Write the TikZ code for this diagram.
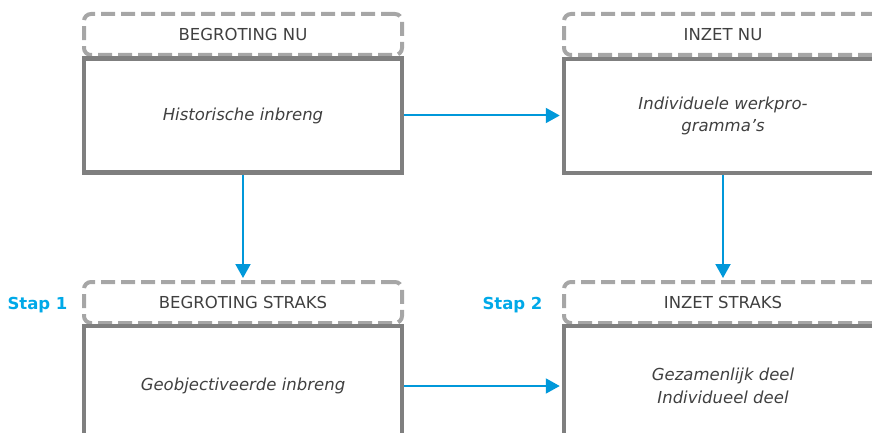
\documentclass[tikz,border=0pt]{standalone}
\usepackage{fontspec}
\setmainfont{DejaVu Sans}
\usetikzlibrary{arrows.meta}
\definecolor{hdrgray}{HTML}{A6A6A6}
\definecolor{boxgray}{HTML}{7F7F7F}
\definecolor{txtgray}{HTML}{404040}
\definecolor{flow}{HTML}{0098DA}
\definecolor{stapblue}{HTML}{00A9E8}
\begin{document}
\begin{tikzpicture}[x=1pt,y=-1pt,
  every node/.style={font=\fontsize{16.5}{22.5}\selectfont, text=txtgray},
  hdrbox/.style={draw=hdrgray, line width=4pt, dash pattern=on 14pt off 6pt,
    rounded corners=7pt, minimum width=318pt, minimum height=41pt, inner sep=0pt},
  mainbox/.style={draw=boxgray, line width=4.5pt, minimum width=318pt,
    minimum height=114pt, inner sep=0pt, align=center,
    font=\fontsize{16.5}{22.5}\selectfont\itshape},
  flowarrow/.style={draw=flow, line width=2pt,
    -{Triangle[length=14pt,width=15pt]}, shorten >=2pt},
  steplabel/.style={font=\fontsize{16.5}{20}\selectfont\bfseries, text=stapblue}]
\useasboundingbox (0,0) rectangle (872,433);
\clip (0,0) rectangle (872,433);

% current situation
\node[hdrbox]  (hdrA) at (243,34.5)  {BEGROTING NU};
\node[mainbox] (boxA) at (243,115.5) {Historische inbreng};
\node[hdrbox]  (hdrB) at (723,34.5)  {INZET NU};
\node[mainbox] (boxB) at (723,116)   {Individuele werkpro-\\gramma’s};

% future situation
\node[hdrbox]  (hdrC) at (243,302.5) {BEGROTING STRAKS};
\node[mainbox, minimum height=120pt] (boxC) at (243,386) {Geobjectiveerde inbreng};
\node[hdrbox]  (hdrD) at (723,302.5) {INZET STRAKS};
\node[mainbox, minimum height=120pt] (boxD) at (723,386) {Gezamenlijk deel\\Individueel deel};

% step labels
\node[steplabel] (stap1) at (37.5,305) {Stap 1};
\node[steplabel] (stap2) at (512.5,305) {Stap 2};

% connectors
\draw[flowarrow] (boxA.east) -- (boxA.east -| boxB.west);
\draw[flowarrow] (boxA.south) -- (hdrC.north);
\draw[flowarrow] (boxB.south) -- (hdrD.north);
\draw[flowarrow] (boxC.east) -- (boxC.east -| boxD.west);
\end{tikzpicture}
\end{document}
